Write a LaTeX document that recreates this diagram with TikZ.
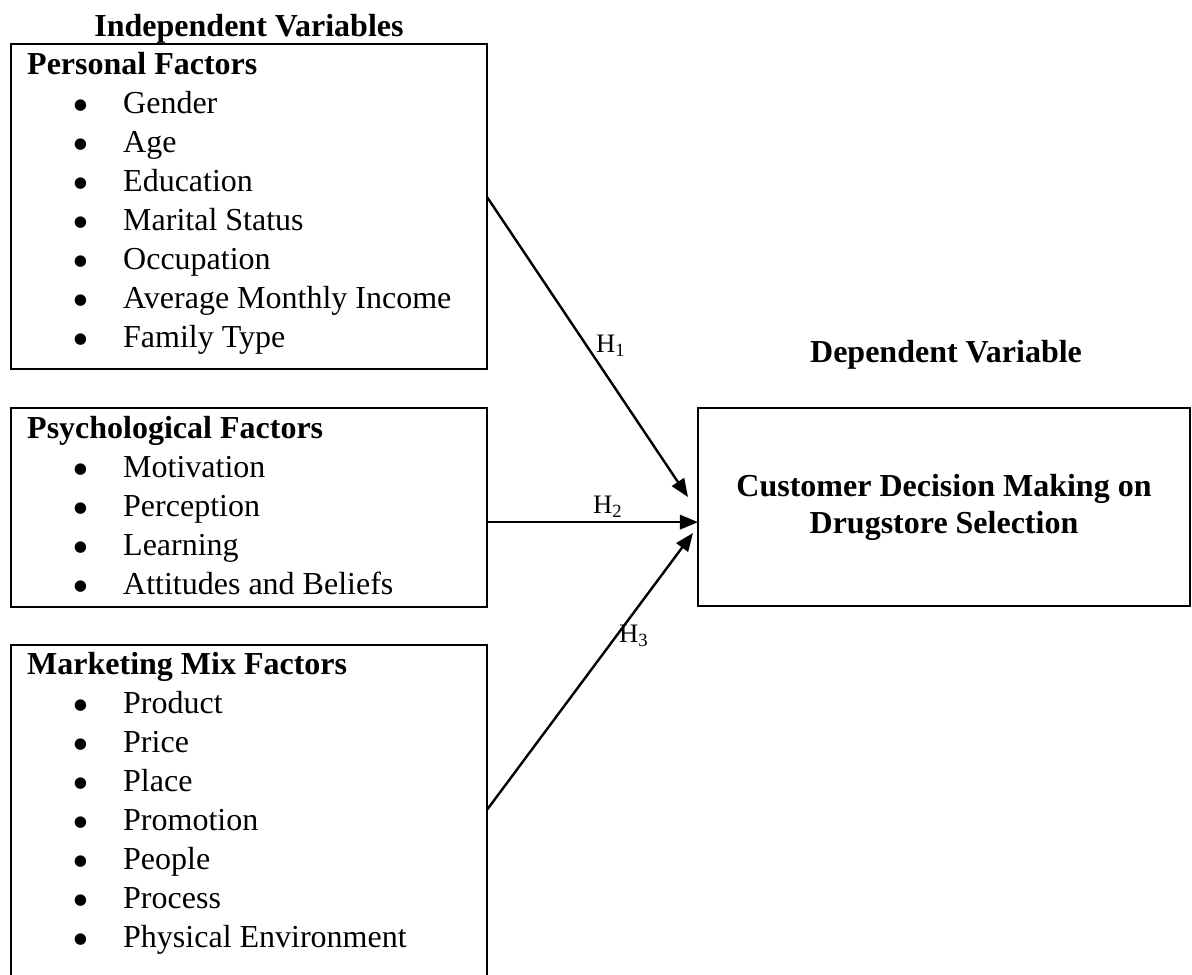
\documentclass[tikz,border=0pt]{standalone}
\usepackage{fontspec}
\setmainfont{Liberation Serif}
\usetikzlibrary{arrows.meta}
\newcommand{\fitem}[1]{\hspace*{16.3pt}\makebox[8pt]{\smash{\raisebox{-3pt}{\scalebox{1.5}{\textbullet}}}}\hspace*{11.7pt}#1}

\begin{document}
\begin{tikzpicture}[x=0.375pt, y=-0.375pt, line width=0.9pt,
    >={Triangle[length=6.8pt,width=5.4pt]},
    factorbox/.style={draw, anchor=north west, minimum width=178.5pt, inner sep=0pt, outer sep=0pt},
    factorlist/.style={anchor=base west, align=left, inner sep=0pt, font=\fontsize{12}{14.625}\selectfont},
    hlabel/.style={anchor=base west, inner sep=0pt, font=\fontsize{10}{12}\selectfont}]
    \useasboundingbox (0,0) rectangle (1192,974);

    % Headings
    \node[anchor=base, font=\bfseries\fontsize{12}{14.4}\selectfont] (indep) at (249,36) {Independent Variables};
    \node[anchor=base, font=\bfseries\fontsize{12}{14.4}\selectfont] (dep) at (946,362) {Dependent Variable};

    % Independent variables (text placed by its last line)
    \node[factorbox, minimum height=121.9pt] (personal) at (11,44) {};
    \node[factorlist] (personaltext) at (26,347) {\textbf{Personal Factors}\\
        \fitem{Gender}\\ \fitem{Age}\\ \fitem{Education}\\ \fitem{Marital Status}\\
        \fitem{Occupation}\\ \fitem{Average Monthly Income}\\ \fitem{Family Type}};

    \node[factorbox, minimum height=74.6pt] (psych) at (11,408) {};
    \node[factorlist] (psychtext) at (26,594) {\textbf{Psychological Factors}\\
        \fitem{Motivation}\\ \fitem{Perception}\\ \fitem{Learning}\\ \fitem{Attitudes and Beliefs}};

    \node[factorbox, minimum height=125.6pt] (marketing) at (11,645) {};
    \node[factorlist] (marketingtext) at (26,947) {\textbf{Marketing Mix Factors}\\
        \fitem{Product}\\ \fitem{Price}\\ \fitem{Place}\\ \fitem{Promotion}\\
        \fitem{People}\\ \fitem{Process}\\ \fitem{Physical Environment}};

    % Dependent variable
    \node[factorbox, minimum width=184.5pt, minimum height=74.25pt, align=center,
        font=\bfseries\fontsize{12}{13.9}\selectfont] (decision) at (698,408)
        {Customer Decision Making on\\ Drugstore Selection};

    % Hypotheses
    \draw[->] ([yshift=3.6pt]personal.east) -- ([xshift=-3.75pt,yshift=3.75pt]decision.west);
    \draw[->] ([yshift=-5.5pt]psych.east) -- ([yshift=-5.5pt]psych.east -| decision.west);
    \draw[->] ([yshift=1pt]marketing.east) -- ([xshift=-1.9pt,yshift=-9.75pt]decision.west);
    \node[hlabel] (h1) at (595,352) {H\textsubscript{1}};
    \node[hlabel] (h2) at (592,513) {H\textsubscript{2}};
    \node[hlabel] (h3) at (618,642) {H\textsubscript{3}};
\end{tikzpicture}
\end{document}
